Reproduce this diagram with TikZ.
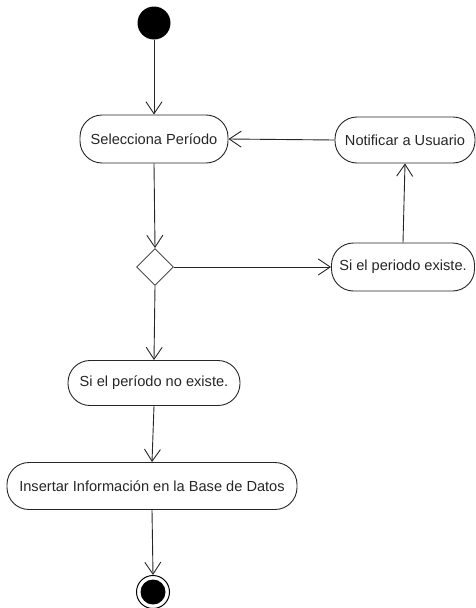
\documentclass[tikz,border=0pt]{standalone}
\usepackage{fontspec}
\setmainfont{Liberation Sans}
\usetikzlibrary{shapes.geometric,arrows.meta}
\begin{document}
\begin{tikzpicture}[x=1pt,y=-1pt,
  every node/.style={font=\fontsize{14.6}{16}\selectfont},
  action/.style={draw=black!85, line width=0.9pt, rounded corners=22pt,
    minimum height=#1, inner sep=0pt, text=black!85},
  flow/.style={draw=black!85, line width=0.9pt,
    -{Straight Barb[length=12pt,width=16pt,line width=0.9pt]}},
  decision/.style={draw=black!70, line width=0.9pt, diamond, aspect=1,
    minimum size=37pt, inner sep=0pt}
]
\useasboundingbox (0,0) rectangle (475,608);

% start and end
\node[circle, fill=black, minimum size=33pt, inner sep=0pt] (start) at (154,23) {};
\node[circle, draw=black, line width=1pt, minimum size=33pt, inner sep=0pt] (end) at (153,592) {};
\node[circle, fill=black, minimum size=25pt, inner sep=0pt] (endin) at (end.center) {};

% actions
\node[action=48pt, minimum width=148pt] (sel) at (154,139) {Selecciona Período};
\node[action=46pt, minimum width=140pt] (notif) at (405,140) {Notificar a Usuario};
\node[action=48pt, minimum width=143pt] (exist) at (403,267) {Si el periodo existe.};
\node[action=45pt, minimum width=172pt] (noexist) at (154,383) {Si el período no existe.};
\node[action=47pt, minimum width=290pt] (insert) at (152,486) {Insertar Información en la Base de Datos};

% decision
\node[decision] (dec) at (155,267) {};

% flows
\draw[flow] (start) -- (sel);
\draw[flow] (sel.south) -- (dec.north);
\draw[flow] (dec.east) -- (exist.west);
\draw[flow] (exist.north) -- (notif.south);
\draw[flow] (notif.west) -- (sel.east);
\draw[flow] (dec.south) -- (noexist.north);
\draw[flow] (noexist.south) -- (insert.north);
\draw[flow] (insert.south) -- (end.north);
\end{tikzpicture}
\end{document}
